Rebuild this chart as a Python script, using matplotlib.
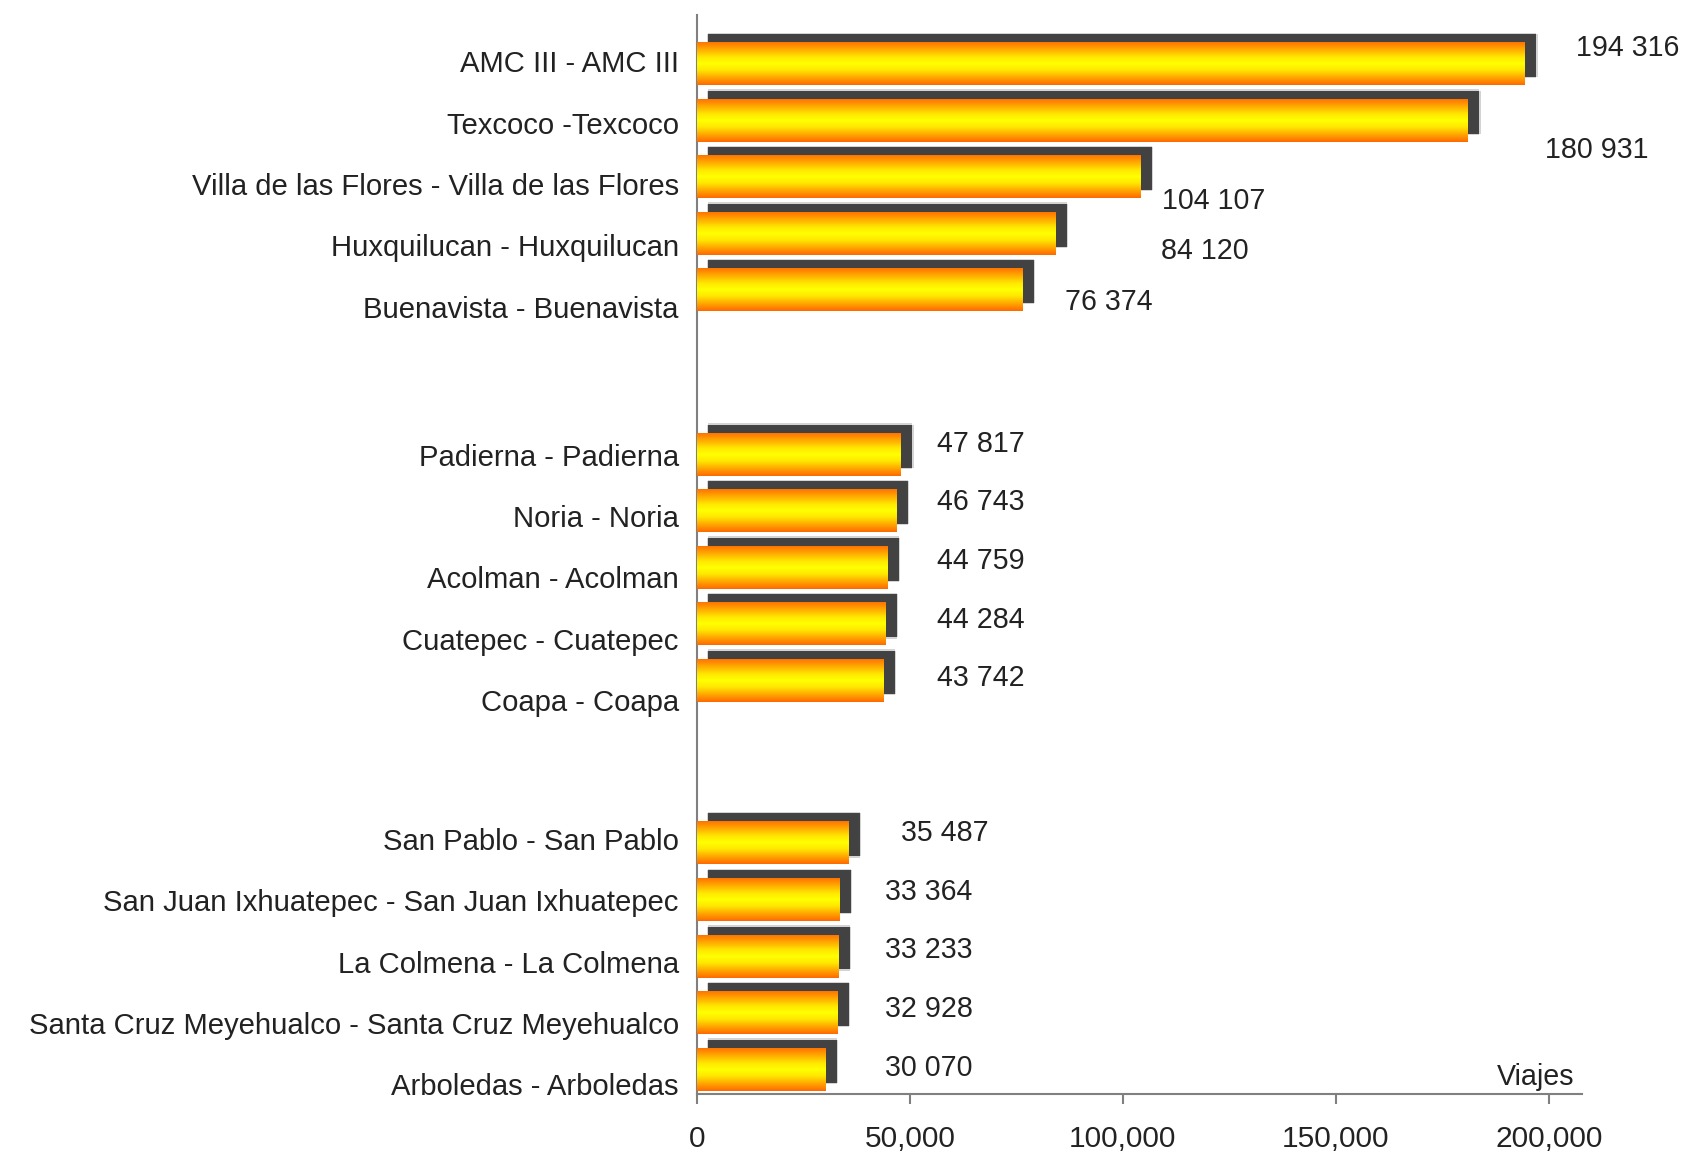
import numpy as np
import matplotlib
matplotlib.use("Agg")
import matplotlib.pyplot as plt
import matplotlib.patheffects as pe
from matplotlib.colors import LinearSegmentedColormap
from matplotlib.ticker import FuncFormatter

# data
categories = [
    "AMC III - AMC III", "Texcoco -Texcoco", "Villa de las Flores - Villa de las Flores",
    "Huxquilucan - Huxquilucan", "Buenavista - Buenavista",
    "Padierna - Padierna", "Noria - Noria", "Acolman - Acolman",
    "Cuatepec - Cuatepec", "Coapa - Coapa",
    "San Pablo - San Pablo", "San Juan Ixhuatepec - San Juan Ixhuatepec",
    "La Colmena - La Colmena", "Santa Cruz Meyehualco - Santa Cruz Meyehualco",
    "Arboledas - Arboledas",
]
viajes = [194316, 180931, 104107, 84120, 76374,
          47817, 46743, 44759, 44284, 43742,
          35487, 33364, 33233, 32928, 30070]
x_ticks = [0, 50000, 100000, 150000, 200000]

# layout (slot units, top to bottom)
group_start_bar = [0.04, 6.95, 13.83]
group_start_lbl = [0.0, 6.96, 13.76]
lbl_step = 1.085
val_lbl_x = [206300, 199000, 109250, 109000, 86500,
             56270, 56270, 56270, 56270, 56270,
             47950, 44080, 44080, 44080, 44080]
val_lbl_y = [-0.23, 1.56, 2.47, 3.36, 4.26,
             6.77, 7.79, 8.84, 9.88, 10.91,
             13.65, 14.70, 15.73, 16.77, 17.81]

bar_pos = [g + i for g in group_start_bar for i in range(5)]
lbl_pos = [g + i * lbl_step for g in group_start_lbl for i in range(5)]

plt.rcParams['font.family'] = ['Liberation Sans', 'DejaVu Sans']
txt_color = '#222222'
axis_color = '#808080'

fig = plt.figure(figsize=(16.85, 11.53), dpi=100)
ax = fig.add_axes([0.4136, 0.0512, 0.5252, 0.9358])

bar_h = 0.76
shadow = [pe.SimplePatchShadow(offset=(8.3 + dx, 5.8 + dy), shadow_rgbFace='#555555', alpha=0.25)
          for dx, dy in [(-1, 0), (1, 0), (0, -1), (0, 1)]]
shadow.append(pe.SimplePatchShadow(offset=(8.3, 5.8), shadow_rgbFace='#3a3a3a', alpha=0.9))
shadow.append(pe.Normal())
bars = ax.barh(bar_pos, viajes, height=bar_h, color='#FF7F00', linewidth=0, zorder=2)
for b in bars:
    b.set_path_effects(shadow)

cmap = LinearSegmentedColormap.from_list(
    'bar', [(0, '#FF7400'), (0.35, '#FFE800'), (0.5, '#FFFF00'), (0.65, '#FFE800'), (1, '#FF6A00')])
grad = np.linspace(0, 1, 64).reshape(-1, 1)
for y, v in zip(bar_pos, viajes):
    ax.imshow(grad, extent=(0, v, y + bar_h / 2, y - bar_h / 2), aspect='auto',
              cmap=cmap, origin='upper', zorder=3, interpolation='bilinear')

for x, y, v in zip(val_lbl_x, val_lbl_y, viajes):
    ax.text(x, y, f"{v:,}".replace(",", " "), ha='left', va='center',
            fontsize=20.6, color=txt_color)

ax.set_xlim(0, 207750)
ax.set_ylim(18.27, -0.82)
ax.set_yticks(lbl_pos)
ax.set_yticklabels(categories, fontsize=21.1, color=txt_color)
ax.tick_params(axis='y', length=0, pad=13)
ax.set_xticks(x_ticks)
ax.xaxis.set_major_formatter(FuncFormatter(lambda v, p: f"{int(v):,}"))
ax.tick_params(axis='x', length=7, width=1.5, color=axis_color, pad=15,
               labelsize=21.5, labelcolor=txt_color)

for s in ['top', 'right']:
    ax.spines[s].set_visible(False)
for s in ['left', 'bottom']:
    ax.spines[s].set_color(axis_color)
    ax.spines[s].set_linewidth(1.5)

ax.text(0.991, 0.003, 'Viajes', transform=ax.transAxes, ha='right', va='bottom',
        fontsize=20.6, color=txt_color)

fig.savefig('out.png', dpi=100)
